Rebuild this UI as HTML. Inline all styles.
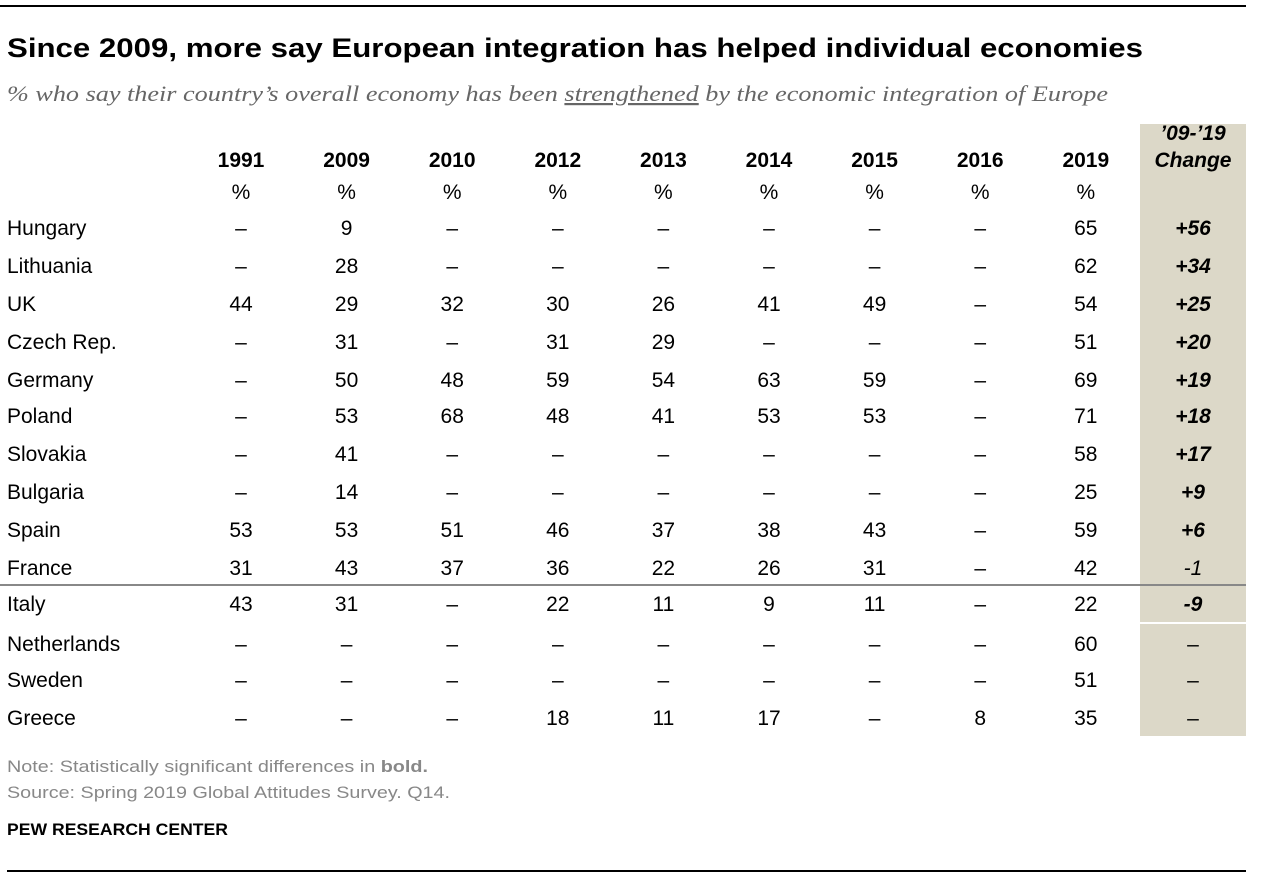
<!DOCTYPE html>
<html><head><meta charset="utf-8"><style>
html,body{margin:0;padding:0;background:#fff}
svg{display:block}
text{font-family:"Liberation Sans",sans-serif}
</style></head><body>
<svg id="chart" width="1262" height="878" viewBox="0 0 1262 878" xmlns="http://www.w3.org/2000/svg">
<line x1="0" y1="6" x2="1246" y2="6" stroke="#000" stroke-width="2"/>
<text x="7" y="57" font-size="27" font-weight="bold" fill="#000" textLength="1136" lengthAdjust="spacingAndGlyphs">Since 2009, more say European integration has helped individual economies</text>
<text x="7" y="101" font-size="22" font-style="italic" fill="#666" style="font-family:'Liberation Serif',serif" textLength="1101" lengthAdjust="spacingAndGlyphs">% who say their country’s overall economy has been <tspan text-decoration="underline">strengthened</tspan> by the economic integration of Europe</text>
<rect x="1140" y="124" width="106" height="612" fill="#dcd8c8"/>
<line x1="0" y1="585" x2="1246" y2="585" stroke="#888" stroke-width="2"/>
<line x1="1140" y1="623" x2="1246" y2="623" stroke="#fff" stroke-width="2"/>
<text x="1193" y="140" font-size="21" font-weight="bold" font-style="italic" text-anchor="middle">’09-’19</text>
<text x="1193" y="167" font-size="21" font-weight="bold" font-style="italic" text-anchor="middle">Change</text>
<g id="body"></g>
<text x="7" y="772" font-size="17" fill="#888" textLength="421" lengthAdjust="spacingAndGlyphs">Note: Statistically significant differences in <tspan font-weight="bold">bold.</tspan></text>
<text x="7" y="798" font-size="17" fill="#888" textLength="443" lengthAdjust="spacingAndGlyphs">Source: Spring 2019 Global Attitudes Survey. Q14.</text>
<text x="7" y="835" font-size="17" font-weight="bold" fill="#000" textLength="221" lengthAdjust="spacingAndGlyphs">PEW RESEARCH CENTER</text>
<line x1="7" y1="871" x2="1246" y2="871" stroke="#000" stroke-width="2"/>
</svg>
<script>
const years = ["1991","2009","2010","2012","2013","2014","2015","2016","2019"];
const countries = ["Hungary","Lithuania","UK","Czech Rep.","Germany","Poland","Slovakia","Bulgaria","Spain","France","Italy","Netherlands","Sweden","Greece"];
const v1991 = [null,null,44,null,null,null,null,null,53,31,43,null,null,null];
const v2009 = [9,28,29,31,50,53,41,14,53,43,31,null,null,null];
const v2010 = [null,null,32,null,48,68,null,null,51,37,null,null,null,null];
const v2012 = [null,null,30,31,59,48,null,null,46,36,22,null,null,18];
const v2013 = [null,null,26,29,54,41,null,null,37,22,11,null,null,11];
const v2014 = [null,null,41,null,63,53,null,null,38,26,9,null,null,17];
const v2015 = [null,null,49,null,59,53,null,null,43,31,11,null,null,null];
const v2016 = [null,null,null,null,null,null,null,null,null,null,null,null,null,8];
const v2019 = [65,62,54,51,69,71,58,25,59,42,22,60,51,35];
const changes = ["+56","+34","+25","+20","+19","+18","+17","+9","+6","-1","-9","–","–","–"];
const significant = [true,true,true,true,true,true,true,true,true,false,true,false,false,false];
const series = [v1991,v2009,v2010,v2012,v2013,v2014,v2015,v2016,v2019];

const NS = "http://www.w3.org/2000/svg";
const g = document.getElementById("body");
const colX = i => 241 + i * 105.6;
const rowYs = [235,273,311,349,387,423,461,499,537,575,611,651,687,725];
const rowY = i => rowYs[i];
function txt(x, y, s, attrs) {
  const t = document.createElementNS(NS, "text");
  t.setAttribute("x", x); t.setAttribute("y", y);
  t.setAttribute("font-size", "21");
  for (const k in attrs) t.setAttribute(k, attrs[k]);
  t.textContent = s; g.appendChild(t); return t;
}
years.forEach((yr, i) => {
  const h = txt(colX(i), 167, yr, {"text-anchor":"middle","font-weight":"bold"});
  
  
  const p = txt(colX(i), 199, "%", {"text-anchor":"middle"});
  
  
});
countries.forEach((c, r) => {
  const l = txt(7, rowY(r), c, {});
  
  
  series.forEach((s, i) => {
    const v = s[r];
    const cell = txt(colX(i), rowY(r), v === null ? "–" : String(v), {"text-anchor":"middle"});
    
    
  });
  const ch = txt(1193, rowY(r), changes[r], {"text-anchor":"middle"});
  if (changes[r] !== "–") ch.setAttribute("font-style", "italic");
  if (significant[r]) ch.setAttribute("font-weight", "bold");
  
  
});
</script>
</body></html>
